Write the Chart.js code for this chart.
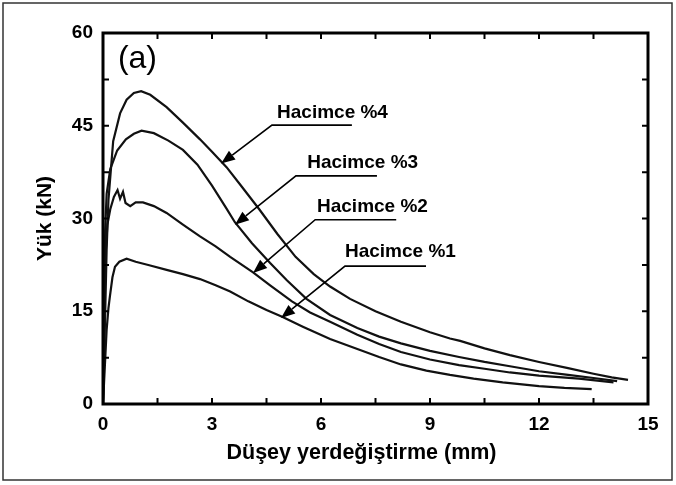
<!DOCTYPE html>
<html><head><meta charset="utf-8">
<script src="https://cdn.jsdelivr.net/npm/chart.js@4.4.1/dist/chart.umd.min.js"></script>
<style>html,body{margin:0;padding:0;background:#fff;}canvas{display:block;}</style>
</head><body>
<canvas id="c" width="676" height="485"></canvas>
<script>
// ---- data ----
const seriesNames = ['Hacimce %4', 'Hacimce %3', 'Hacimce %2', 'Hacimce %1'];

const x4 = [0,0.05,0.1,0.15,0.28,0.47,0.65,0.85,1.05,1.3,1.75,2.2,2.67,3.0,3.4,3.8,4.3,4.8,5.3,5.8,6.25,6.8,7.5,8.2,9.0,9.55,9.83,10.5,11.2,12.0,12.8,13.5,14.0,14.45];
const y4 = [0,12,25,33,42.5,47,49.2,50.3,50.6,50,48,45.5,42.8,40.8,38.3,35.3,31.5,27.5,23.8,21,19,17,15,13.3,11.6,10.6,10.2,9.0,7.9,6.8,5.8,4.9,4.3,3.9];

const x3 = [0,0.03,0.06,0.1,0.2,0.39,0.63,0.85,1.06,1.4,1.8,2.2,2.6,3.0,3.4,3.63,4.1,4.6,5.06,5.6,6.25,7.0,7.6,8.2,9.0,9.8,10.5,11.2,12.0,12.8,13.5,14.15];
const y3 = [0,15,28,34,38,41,42.8,43.7,44.2,43.8,42.6,41.1,38.7,35.3,31.6,29.4,26,22.8,20,17,14.4,12.3,10.9,9.8,8.6,7.6,6.8,6.1,5.3,4.7,4.2,3.7];

const x2 = [0,0.03,0.07,0.12,0.2,0.3,0.4,0.47,0.55,0.62,0.75,0.9,1.1,1.4,1.75,2.2,2.67,3.1,3.5,4.13,4.6,5.2,5.7,6.25,7.0,7.6,8.2,9.0,9.8,10.5,11.2,12.0,13.1,14.05];
const y2 = [0,14,24,29,31.5,33.5,34.6,33.2,34.3,32.5,32,32.6,32.6,32,30.9,29,27.1,25.5,23.8,21.3,19.2,16.6,14.8,13.3,11.2,9.7,8.4,7.2,6.3,5.7,5.1,4.6,4.1,3.5];

const x1 = [0,0.05,0.1,0.15,0.19,0.26,0.33,0.45,0.65,0.9,1.3,1.75,2.2,2.67,3.1,3.5,4.0,4.5,4.93,5.5,6.25,7.0,7.6,8.2,8.9,9.55,10.2,11.0,12.0,12.7,13.45];
const y1 = [0,6,12,15.5,17.4,20.5,22.2,23,23.5,23,22.4,21.7,21,20.2,19.2,18.2,16.6,15.2,14.1,12.5,10.5,8.9,7.6,6.4,5.4,4.7,4.1,3.5,2.9,2.6,2.4];

const xMin = 0, xMax = 15, xStep = 3, xMinorStep = 1.5;
const yMin = 0, yMax = 60, yStep = 15, yMinorStep = 7.5;

// annotation leaders (in data units)
const annTextX  = [4.79, 5.62, 5.89, 6.66];
const annTextY  = [46.3, 38.2, 31.1, 23.8];
const annLineX0 = [4.65, 5.31, 5.84, 6.66];
const annLineX1 = [6.85, 7.54, 8.07, 8.89];
const annLineY  = [45.1, 36.9, 29.8, 22.3];
const annTipX   = [3.25, 3.63, 4.13, 4.90];
const annTipY   = [38.9, 29.0, 21.2, 13.9];

const panelLabel = '(a)';
const xTitle = 'Düşey yerdeğiştirme (mm)';
const yTitle = 'Yük (kN)';

const FONT = "'Liberation Sans', Arial, sans-serif";

function pts(xs, ys){ return xs.map((x,i)=>({x:x, y:ys[i]})); }

const datasets = [[x4,y4],[x3,y3],[x2,y2],[x1,y1]].map((p,i)=>({
  label: seriesNames[i],
  data: pts(p[0], p[1]),
  borderColor: '#111',
  borderWidth: 2.2,
  pointRadius: 0,
  tension: 0,
  fill: false
}));

const decor = {
  id: 'decor',
  afterDraw(chart){
    const ctx = chart.ctx, xs = chart.scales.x, ys = chart.scales.y, a = chart.chartArea;
    ctx.save();
    // outer frame
    ctx.strokeStyle = '#333'; ctx.lineWidth = 1.5;
    ctx.strokeRect(3, 3, 669, 477);
    // inward ticks
    ctx.strokeStyle = '#000'; ctx.lineWidth = 2;
    const tl = 6;
    for (let v = xMin; v <= xMax + 1e-9; v += xMinorStep) {
      const px = xs.getPixelForValue(v);
      ctx.beginPath();
      ctx.moveTo(px, a.bottom); ctx.lineTo(px, a.bottom - tl);
      ctx.moveTo(px, a.top); ctx.lineTo(px, a.top + tl);
      ctx.stroke();
    }
    for (let v = yMin; v <= yMax + 1e-9; v += yMinorStep) {
      const py = ys.getPixelForValue(v);
      ctx.beginPath();
      ctx.moveTo(a.left, py); ctx.lineTo(a.left + tl, py);
      ctx.moveTo(a.right, py); ctx.lineTo(a.right - tl, py);
      ctx.stroke();
    }
    // plot box
    ctx.lineWidth = 3;
    ctx.strokeRect(a.left, a.top, a.right - a.left, a.bottom - a.top);

    // annotations
    ctx.fillStyle = '#000';
    ctx.strokeStyle = '#000';
    ctx.font = 'bold 19px ' + FONT;
    ctx.textAlign = 'left'; ctx.textBaseline = 'alphabetic';
    for (let i = 0; i < seriesNames.length; i++) {
      ctx.fillText(seriesNames[i], xs.getPixelForValue(annTextX[i]), ys.getPixelForValue(annTextY[i]));
      const lx0 = xs.getPixelForValue(annLineX0[i]), lx1 = xs.getPixelForValue(annLineX1[i]);
      const ly = ys.getPixelForValue(annLineY[i]);
      const tx = xs.getPixelForValue(annTipX[i]), ty = ys.getPixelForValue(annTipY[i]);
      ctx.lineWidth = 1.6;
      ctx.beginPath();
      ctx.moveTo(lx1, ly); ctx.lineTo(lx0, ly);
      const ang = Math.atan2(ty - ly, tx - lx0);
      const hl = 14, hw = 5.5;
      const bx = tx - hl*Math.cos(ang), by = ty - hl*Math.sin(ang);
      ctx.lineTo(bx, by);
      ctx.stroke();
      ctx.beginPath();
      ctx.moveTo(tx, ty);
      ctx.lineTo(bx + hw*Math.sin(ang), by - hw*Math.cos(ang));
      ctx.lineTo(bx - hw*Math.sin(ang), by + hw*Math.cos(ang));
      ctx.closePath();
      ctx.fill();
    }
    // panel label
    ctx.font = '32px ' + FONT;
    ctx.textBaseline = 'middle';
    ctx.fillText(panelLabel, xs.getPixelForValue(0.41), ys.getPixelForValue(55.8));
    // x-axis title
    ctx.font = 'bold 21.5px ' + FONT;
    ctx.textAlign = 'center';
    ctx.fillText(xTitle, (a.left + a.right)/2 - 14, 453);
    ctx.restore();
  }
};

new Chart(document.getElementById('c'), {
  type: 'line',
  data: { datasets },
  options: {
    responsive: false,
    animation: false,
    parsing: true,
    layout: { padding: { left: 0, right: 28, top: 33, bottom: 0 } },
    plugins: { legend: { display: false }, tooltip: { enabled: false } },
    scales: {
      x: {
        type: 'linear', min: xMin, max: xMax,
        ticks: { stepSize: xStep, padding: 9, color: '#000', font: { family: FONT, weight: 'bold', size: 19 } },
        grid: { display: false, drawTicks: false },
        border: { display: false },
        afterFit(s){ s.height = 81; }
      },
      y: {
        type: 'linear', min: yMin, max: yMax,
        ticks: { stepSize: yStep, padding: 10, color: '#000', font: { family: FONT, weight: 'bold', size: 19 } },
        grid: { display: false, drawTicks: false },
        border: { display: false },
        title: { display: true, text: yTitle, color: '#000', font: { family: FONT, weight: 'bold', size: 21 }, padding: { top: 33, bottom: 0 } },
        afterFit(s){ s.width = 103; }
      }
    }
  },
  plugins: [decor]
});
</script>
</body></html>
